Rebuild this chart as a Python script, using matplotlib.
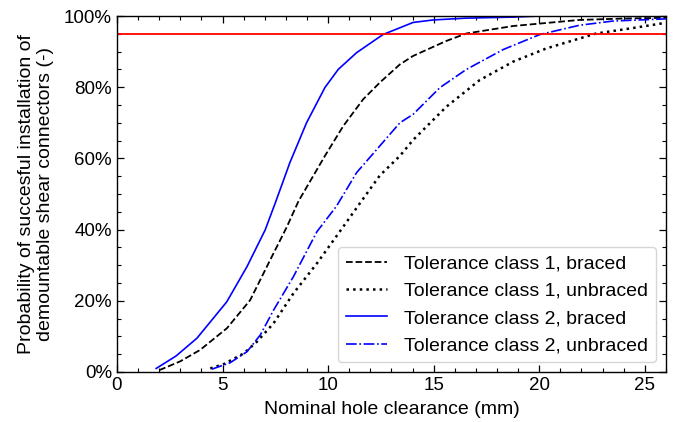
import matplotlib
matplotlib.use("Agg")
import matplotlib.pyplot as plt
from matplotlib.ticker import MultipleLocator, PercentFormatter

plt.rcParams['font.family'] = ['Liberation Sans', 'DejaVu Sans']

# Tolerance class 1, braced
tc1b_x = [2.0, 3.0, 3.94, 5.21, 6.31, 7.26, 8.05, 8.6, 9.85, 10.72, 11.66, 12.45, 13.4, 14.03, 15.6, 16.55, 18.77, 21.9, 24.0, 26.0]
tc1b_y = [0.5, 3.0, 6.2, 12.3, 20.2, 31.5, 40.8, 48.0, 60.7, 69.1, 76.6, 81.3, 86.4, 88.8, 93.0, 95.1, 97.2, 98.9, 99.3, 99.5]

# Tolerance class 1, unbraced
tc1u_x = [4.42, 5.05, 6.0, 6.63, 7.42, 8.36, 9.47, 10.5, 11.4, 12.45, 13.4, 14.03, 15.6, 17.18, 18.77, 20.34, 22.7, 24.3, 26.0]
tc1u_y = [1.0, 2.2, 5.2, 8.5, 13.7, 22.1, 30.5, 39.0, 46.5, 55.2, 60.7, 65.2, 74.5, 82.0, 87.2, 90.9, 95.1, 96.5, 98.1]

# Tolerance class 2, braced
tc2b_x = [1.86, 2.8, 3.79, 5.2, 6.16, 7.02, 7.5, 8.19, 8.98, 9.85, 10.48, 11.35, 12.6, 13.4, 14.03, 14.98, 16.5, 18.75, 20.0, 26.0]
tc2b_y = [1.0, 4.5, 9.5, 19.7, 29.6, 39.9, 47.5, 58.8, 70.0, 79.9, 85.0, 89.7, 94.8, 96.7, 98.2, 98.9, 99.4, 99.7, 100.0, 100.0]

# Tolerance class 2, unbraced
tc2u_x = [4.5, 5.36, 6.16, 6.79, 7.42, 8.36, 9.47, 10.4, 11.35, 12.45, 13.4, 14.03, 15.3, 16.55, 18.3, 20.03, 21.9, 23.5, 26.0]
tc2u_y = [0.8, 2.6, 5.7, 10.4, 17.4, 26.8, 39.4, 46.6, 56.0, 63.5, 70.0, 72.4, 79.9, 85.0, 90.6, 94.8, 97.4, 98.6, 99.2]

threshold = 95.0

series_labels = ["Tolerance class 1, braced", "Tolerance class 1, unbraced",
                 "Tolerance class 2, braced", "Tolerance class 2, unbraced"]

fig = plt.figure(figsize=(6.76, 4.22), dpi=100)
ax = fig.add_axes([0.173, 0.1185, 0.812, 0.8435])

ax.plot(tc1b_x, tc1b_y, color='black', linestyle='--', lw=1.3, label=series_labels[0])
ax.plot(tc1u_x, tc1u_y, color='black', linestyle=':', lw=1.8, label=series_labels[1])
ax.plot(tc2b_x, tc2b_y, color='#0000ff', linestyle='-', lw=1.2, label=series_labels[2])
ax.plot(tc2u_x, tc2u_y, color='#0000ff', linestyle='-.', lw=1.2, label=series_labels[3])
ax.axhline(threshold, color='#ff0000', lw=1.3)

ax.set_xlim(0, 26)
ax.set_ylim(0, 100)
ax.xaxis.set_major_locator(MultipleLocator(5))
ax.xaxis.set_minor_locator(MultipleLocator(1))
ax.yaxis.set_major_locator(MultipleLocator(20))
ax.yaxis.set_minor_locator(MultipleLocator(5))
ax.yaxis.set_major_formatter(PercentFormatter(decimals=0))
ax.tick_params(which='both', direction='in', top=True, right=True, labelsize=13.5)
ax.tick_params(which='major', length=5, width=0.9)
ax.tick_params(which='minor', length=3, width=0.8)
for s in ax.spines.values():
    s.set_linewidth(1.0)

ax.set_xlabel("Nominal hole clearance (mm)", fontsize=14, labelpad=5)
ax.set_ylabel("Probability of succesful installation of\ndemountable shear connectors (-)",
              fontsize=14, labelpad=7)

leg = ax.legend(loc='lower right', fontsize=14, handlelength=2.1, handletextpad=0.9,
                borderaxespad=0.5, labelspacing=0.5, frameon=True, fancybox=True)
leg.get_frame().set_edgecolor('#cccccc')

fig.savefig("out.png", dpi=100)
